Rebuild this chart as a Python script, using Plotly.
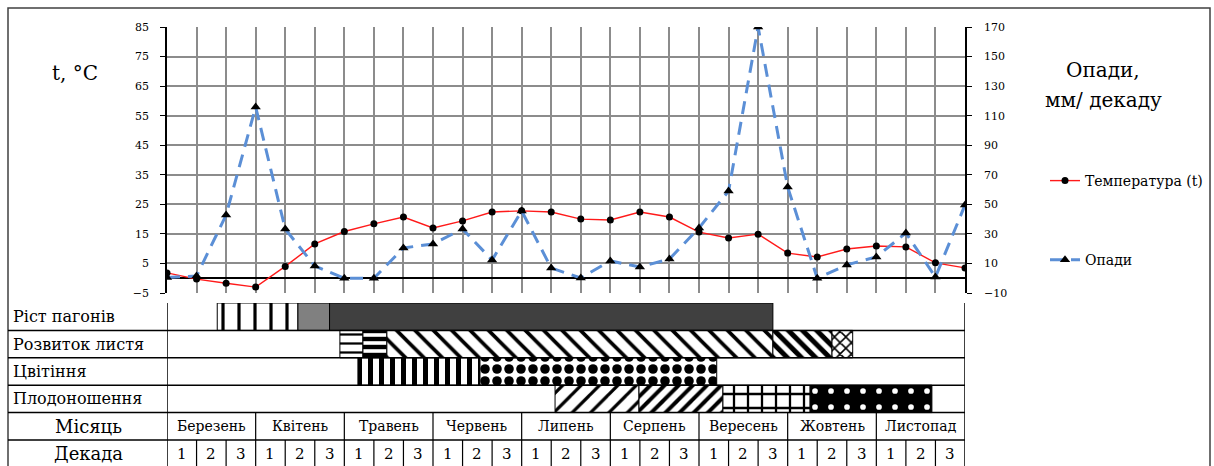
import plotly.graph_objects as go

# ---------------- data ----------------
decade_index = list(range(28))
temperature = [1.8, -0.3, -1.7, -3.0, 4.0, 11.6, 15.8, 18.4, 20.7, 17.0, 19.4, 22.4, 22.8, 22.4,
               20.0, 19.7, 22.4, 20.7, 15.6, 13.6, 14.9, 8.5, 7.2, 9.9, 10.9, 10.6, 5.2, 3.5]
precip = [0.5, 1.5, 42.8, 115.9, 33.3, 8.3, 0.0, 0.0, 20.5, 23.2, 33.3, 12.3, 45.5, 6.9,
          0.2, 11.7, 7.6, 13.0, 34.0, 59.0, 170.0, 61.7, 0.0, 9.0, 14.4, 30.6, 0.8, 49.6]

row_labels = ["Ріст пагонів", "Розвиток листя", "Цвітіння", "Плодоношення"]
months = ["Березень", "Квітень", "Травень", "Червень", "Липень", "Серпень",
          "Вересень", "Жовтень", "Листопад"]
decade_labels = ["1", "2", "3"] * 9

# phenology phases (row index, start decade, end decade)
phase_row = [0, 0, 0, 1, 1, 1, 1, 1, 2, 2, 3, 3, 3, 3]
phase_start = [1.7, 4.43, 5.5, 5.85, 6.63, 7.44, 20.5, 22.5, 6.46, 10.59, 13.13, 15.97, 18.81, 21.76]
phase_end = [4.43, 5.5, 20.5, 6.63, 7.44, 20.5, 22.5, 23.2, 10.59, 18.6, 15.97, 18.81, 21.76, 25.88]

# styles for each phase bar
ph_shape = ["|", "", "", "-", "-", "\\", "\\", "x", "|", ".", "/", "/", "+", "."]
ph_size = [16, 8, 8, 9, 8, 13, 10, 8, 11, 12, 13, 10, 14, 16]
ph_solid = [0.2, 0.3, 0.3, 0.25, 0.55, 0.28, 0.5, 0.35, 0.45, 0.5, 0.25, 0.4, 0.3, 0.1]
ph_fg = ["black", "black", "black", "black", "black", "black", "black", "black", "black",
         "black", "black", "black", "black", "white"]
ph_bg = ["white", "#808080", "#404040", "white", "white", "white", "white", "white", "white",
         "white", "white", "white", "white", "black"]

W, H = 1214, 466
def px_x(p):
    return p / W
def px_y(p):
    return 1 - p / H

SERIF = "DejaVu Serif"

fig = go.Figure()

fig.add_trace(go.Scatter(
    x=decade_index, y=temperature, name="Температура (t)", mode="lines+markers",
    line=dict(color="#FF1A1A", width=1.4),
    marker=dict(color="black", size=7, symbol="circle"),
    xaxis="x", yaxis="y", legendgroup="a"))

fig.add_trace(go.Scatter(
    x=decade_index, y=precip, name="Опади", mode="lines+markers",
    line=dict(color="#5B8FD6", width=3, dash="13px,8px"),
    marker=dict(color="black", size=9, symbol="triangle-up"),
    xaxis="x", yaxis="y2", legendgroup="b"))

for i in range(len(phase_row)):
    fig.add_trace(go.Bar(
        orientation="h",
        y=[phase_row[i]],
        base=[phase_start[i]],
        x=[phase_end[i] - phase_start[i]],
        width=1,
        marker=dict(
            color=ph_bg[i],
            line=dict(color="black", width=1),
            pattern=dict(shape=ph_shape[i], size=ph_size[i], solidity=ph_solid[i],
                         fgcolor=ph_fg[i], bgcolor=ph_bg[i], fgopacity=1)),
        xaxis="x2", yaxis="y3", showlegend=False, hoverinfo="skip"))

x_dom = [px_x(167), px_x(965)]

fig.update_layout(
    width=W, height=H,
    margin=dict(l=0, r=0, t=0, b=0, pad=0, autoexpand=False),
    paper_bgcolor="white", plot_bgcolor="white",
    font=dict(family=SERIF, color="black"),
    xaxis=dict(domain=x_dom, range=[0, 27], anchor="y", dtick=1, tick0=0,
               showgrid=True, gridcolor="#8C8C8C", gridwidth=1.5, automargin=False,
               showticklabels=False, ticks="", zeroline=False, showline=False),
    yaxis=dict(domain=[px_y(293), px_y(27)], range=[-5, 85], tick0=-5, dtick=10,
               showgrid=True, gridcolor="#8C8C8C", gridwidth=1.5, automargin=False,
               zeroline=True, zerolinecolor="black", zerolinewidth=1.5,
               showline=True, linecolor="black", linewidth=1.5,
               ticks="outside", ticklen=5, tickcolor="black", ticklabelstandoff=9,
               tickfont=dict(family=SERIF, size=11, color="black")),
    yaxis2=dict(overlaying="y", side="right", anchor="x", range=[-10, 170], tick0=-10, dtick=20,
                showgrid=False, zeroline=False, automargin=False,
                showline=True, linecolor="black", linewidth=1.5,
                ticks="outside", ticklen=5, tickcolor="black", ticklabelstandoff=10,
                tickfont=dict(family=SERIF, size=11, color="black")),
    xaxis2=dict(domain=x_dom, range=[0, 27], anchor="y3", showgrid=False, zeroline=False,
                showticklabels=False, ticks="", showline=False, automargin=False),
    yaxis3=dict(domain=[0, px_y(303)], range=[5.45, -0.5], showgrid=False, zeroline=False,
                showticklabels=False, ticks="", showline=False, automargin=False),
    barmode="overlay",
    legend=dict(x=px_x(1045), y=px_y(165), xanchor="left", yanchor="top",
                font=dict(family=SERIF, size=14, color="black"),
                tracegroupgap=58, bgcolor="rgba(0,0,0,0)", borderwidth=0),
    showlegend=True,
)

shapes = []
shapes.append(dict(type="rect", xref="paper", yref="paper", x0=px_x(8), x1=px_x(1210),
                   y0=-0.05, y1=px_y(8), line=dict(color="#404040", width=1.5)))
for b in [0.5, 1.5, 2.5, 3.5, 4.5]:
    shapes.append(dict(type="line", xref="paper", yref="y3", x0=px_x(8), x1=px_x(965),
                       y0=b, y1=b, line=dict(color="black", width=1.5)))
for xv in [0, 27]:
    shapes.append(dict(type="line", xref="x2", yref="y3", x0=xv, x1=xv, y0=-0.5, y1=5.45,
                       line=dict(color="black", width=1.5)))
for m in range(1, 9):
    shapes.append(dict(type="line", xref="x2", yref="y3", x0=3 * m, x1=3 * m, y0=3.5, y1=5.45,
                       line=dict(color="black", width=1.2)))
for d in range(1, 27):
    if d % 3:
        shapes.append(dict(type="line", xref="x2", yref="y3", x0=d, x1=d, y0=4.5, y1=5.45,
                           line=dict(color="black", width=1.2)))
fig.update_layout(shapes=shapes)

def A(text, x, y, size, xref="paper", yref="paper", xanchor="center", fam=SERIF):
    return dict(text=text, xref=xref, yref=yref, x=x, y=y, xanchor=xanchor, yanchor="middle",
                showarrow=False, font=dict(family=fam, size=size, color="black"))

ann = []
ann.append(A("t, °C", px_x(75), px_y(73), 20))
ann.append(A("Опади,", px_x(1103), px_y(70), 20))
ann.append(A("мм/ декаду", px_x(1103), px_y(100), 20))
for i, lab in enumerate(row_labels):
    ann.append(A(lab, px_x(11), i, 16, yref="y3", xanchor="left"))
ann.append(A("Місяць", px_x(88), 4, 18, yref="y3"))
ann.append(A("Декада", px_x(88), 5, 18, yref="y3"))
for m, name in enumerate(months):
    ann.append(A(name, 3 * m + 1.5, 4, 14, xref="x2", yref="y3"))
for d, lab in enumerate(decade_labels):
    ann.append(A(lab, d + 0.5, 5, 15, xref="x2", yref="y3"))
fig.update_layout(annotations=ann)

fig.write_html("out.html")
